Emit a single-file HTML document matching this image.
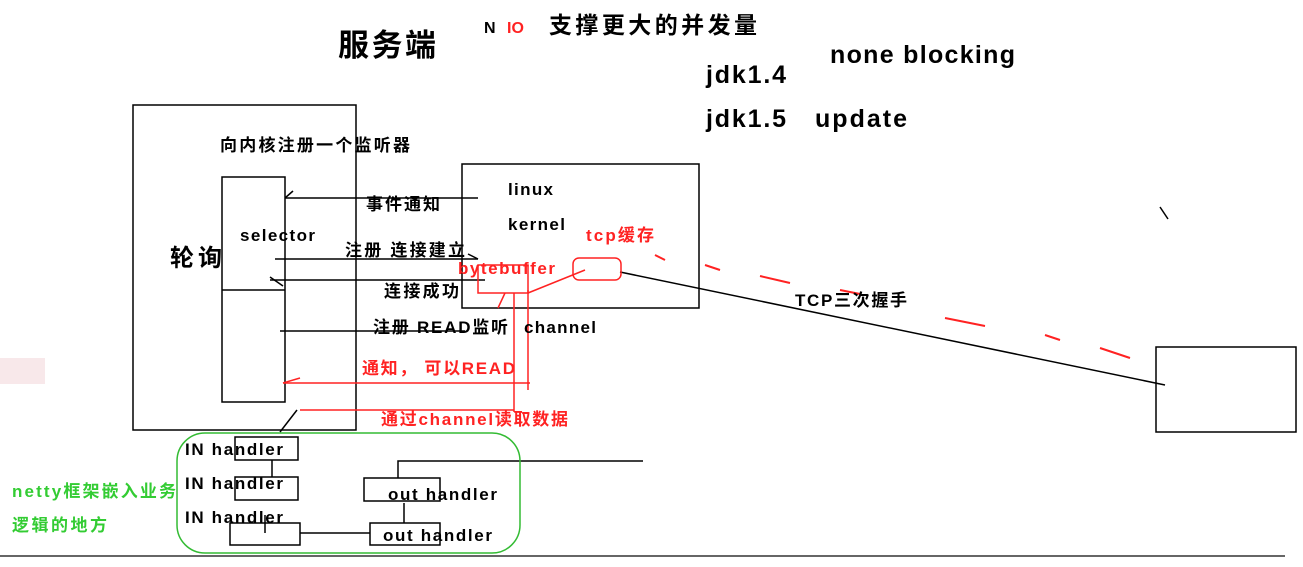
<!DOCTYPE html><html><head><style>body{margin:0;background:#fff;width:1303px;height:562px;overflow:hidden}
svg{font-family:"Liberation Sans","Noto Sans CJK SC",sans-serif;font-weight:bold}</style></head><body>
<svg width="1303" height="562" xmlns="http://www.w3.org/2000/svg">
<g fill="none" stroke="#000" stroke-width="1.5">
<rect x="133" y="105" width="223" height="325"/>
<rect x="222" y="177" width="63" height="225"/>
<line x1="222" y1="290" x2="285" y2="290"/>
<rect x="462" y="164" width="237" height="144"/>
<rect x="1156" y="347" width="140" height="85"/>
<line x1="620" y1="272" x2="1165" y2="385"/>
<line x1="285" y1="198" x2="478" y2="198"/><line x1="285" y1="198" x2="293" y2="191"/>
<line x1="275" y1="259" x2="478" y2="259"/><line x1="478" y1="259" x2="468" y2="254"/>
<line x1="270" y1="280" x2="485" y2="280"/><line x1="270" y1="277" x2="283" y2="286"/>
<line x1="280" y1="331" x2="465" y2="331"/>
<line x1="297" y1="410" x2="280" y2="432"/>
<line x1="1160" y1="207" x2="1168" y2="219"/>
<rect x="235" y="437" width="63" height="23"/>
<rect x="235" y="477" width="63" height="23"/>
<rect x="230" y="523" width="70" height="22"/>
<rect x="364" y="478" width="76" height="23"/>
<rect x="370" y="523" width="70" height="22"/>
<polyline points="272,460 272,477"/>
<line x1="265" y1="515" x2="265" y2="533"/>
<line x1="300" y1="533" x2="370" y2="533"/>
<line x1="404" y1="503" x2="404" y2="523"/>
<polyline points="398,478 398,461 643,461"/>
</g>
<line x1="0" y1="556" x2="1285" y2="556" stroke="#666" stroke-width="2"/>
<g fill="none" stroke="#f22" stroke-width="1.5">
<rect x="478" y="265" width="50" height="28"/>
<rect x="573" y="258" width="48" height="22" rx="6"/>
<line x1="528" y1="293" x2="585" y2="270"/>
<line x1="505" y1="293" x2="498" y2="308"/>
<line x1="528" y1="290" x2="528" y2="390"/>
<line x1="514" y1="293" x2="514" y2="412"/>
<line x1="283" y1="383" x2="530" y2="383"/>
<line x1="283" y1="383" x2="300" y2="378"/>
<line x1="300" y1="410" x2="514" y2="410"/>
<g stroke-width="2"><line x1="655" y1="255" x2="665" y2="260"/><line x1="705" y1="265" x2="720" y2="270"/><line x1="760" y1="276" x2="790" y2="283"/><line x1="840" y1="290" x2="860" y2="294"/><line x1="945" y1="318" x2="985" y2="326"/><line x1="1045" y1="335" x2="1060" y2="340"/><line x1="1100" y1="348" x2="1130" y2="358"/></g>
</g>
<rect x="0" y="358" width="45" height="26" fill="#f3d8dc" opacity="0.6"/>
<g font-size="17" lengthAdjust="spacingAndGlyphs">
<text x="338" y="56" font-size="31" textLength="98">服务端</text>
<text x="484" y="33" font-size="16">N</text><text x="507" y="33" font-size="16" fill="#f22">IO</text>
<text x="549" y="33" font-size="23" textLength="208">支撑更大的并发量</text>
<text x="830" y="63" font-size="25" textLength="185">none blocking</text>
<text x="706" y="83" font-size="25" textLength="80">jdk1.4</text>
<text x="706" y="127" font-size="25" textLength="80">jdk1.5</text><text x="815" y="127" font-size="25" textLength="92">update</text>
<text x="220" y="151" font-size="17" textLength="190">向内核注册一个监听器</text>
<text x="170" y="266" font-size="24" textLength="52">轮询</text>
<text x="240" y="241" textLength="75">selector</text>
<text x="508" y="195" textLength="45">linux</text>
<text x="508" y="230" textLength="57">kernel</text>
<text x="366" y="210" font-size="17" textLength="74">事件通知</text>
<text x="345" y="256" font-size="17" textLength="120">注册 连接建立</text>
<text x="384" y="297" font-size="17" textLength="75">连接成功</text>
<text x="373" y="333" font-size="17" textLength="135">注册 READ监听</text>
<text x="524" y="333" textLength="72">channel</text>
<text x="586" y="241" fill="#f22" font-size="17" textLength="68">tcp缓存</text>
<text x="458" y="274" fill="#f22" font-size="17" textLength="97">bytebuffer</text>
<text x="362" y="374" fill="#f22" font-size="17" textLength="153">通知， 可以READ</text>
<text x="381" y="425" fill="#f22" font-size="17" textLength="187">通过channel读取数据</text>
<text x="795" y="306" font-size="17" textLength="112">TCP三次握手</text>
<text x="185" y="455" textLength="98">IN handler</text>
<text x="185" y="489" textLength="98">IN handler</text>
<text x="185" y="523" textLength="98">IN handler</text>
<text x="388" y="500" textLength="109">out handler</text>
<text x="383" y="541" textLength="109">out handler</text>
<text x="12" y="497" fill="#3c3" font-size="17" textLength="164">netty框架嵌入业务</text>
<text x="12" y="531" fill="#3c3" font-size="17" textLength="95">逻辑的地方</text>
</g>
<rect x="177" y="433" width="343" height="120" rx="28" fill="none" stroke="#3b3" stroke-width="1.5"/>
</svg></body></html>
